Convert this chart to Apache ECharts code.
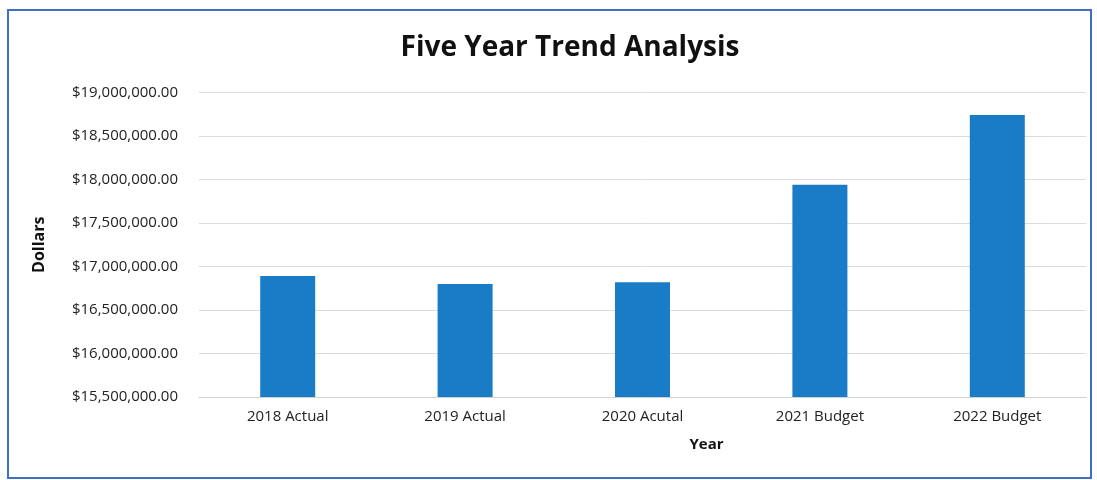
<!DOCTYPE html>
<html>
<head>
<meta charset="utf-8">
<script src="https://cdn.jsdelivr.net/npm/echarts@6/dist/echarts.min.js"></script>
<style>
  html, body { margin: 0; padding: 0; background: #fff; }
  #wrap { position: relative; width: 1097px; height: 480px; }
  #main { width: 1097px; height: 480px; }
  #frame { position: absolute; left: 7px; top: 9px; width: 1081px; height: 466px;
           border: 2px solid #3f6fc6; pointer-events: none; }
</style>
</head>
<body>
<div id="wrap">
  <div id="main"></div>
  <div id="frame"></div>
</div>
<script>
var years = ['2018 Actual', '2019 Actual', '2020 Acutal', '2021 Budget', '2022 Budget'];
var dollars = [16890000, 16800000, 16820000, 17940000, 18740000];
var yMin = 15500000, yMax = 19000000, yStep = 500000;

var myChart = echarts.init(document.getElementById('main'));

function money(v) {
    return '$' + v.toLocaleString('en-US', { minimumFractionDigits: 2, maximumFractionDigits: 2 });
}

var option = {
    backgroundColor: '#fff',
    textStyle: { fontFamily: 'Open Sans' },
    title: {
        text: 'Five Year Trend Analysis',
        left: 565,
        textAlign: 'center',
        top: 29,
        textStyle: { fontSize: 28, fontWeight: 'bold', color: '#111', fontFamily: 'Open Sans' }
    },
    grid: { left: 199, right: 11, top: 92.5, bottom: 83 },
    xAxis: {
        type: 'category',
        data: years,
        name: 'Year',
        nameLocation: 'middle',
        nameGap: 40,
        nameTextStyle: { fontSize: 15, fontWeight: 'bold', color: '#111', padding: [0, 0, 0, 128] },
        axisLine: { lineStyle: { color: '#d0d0d0' } },
        axisTick: { show: false },
        axisLabel: { fontSize: 15, color: '#222', margin: 12 }
    },
    yAxis: {
        type: 'value',
        min: yMin,
        max: yMax,
        interval: yStep,
        name: 'Dollars',
        nameLocation: 'middle',
        nameGap: 152,
        nameTextStyle: { fontSize: 16, fontWeight: 'bold', color: '#111' },
        axisLine: { show: false },
        axisTick: { show: false },
        axisLabel: { fontSize: 15, color: '#222', margin: 21, formatter: money },
        splitLine: { lineStyle: { color: '#dcdcdc' } }
    },
    series: [
        {
            type: 'bar',
            data: dollars,
            barWidth: 55,
            itemStyle: { color: '#1a7bc6' }
        }
    ]
};

myChart.setOption(option, true);
</script>
</body>
</html>
